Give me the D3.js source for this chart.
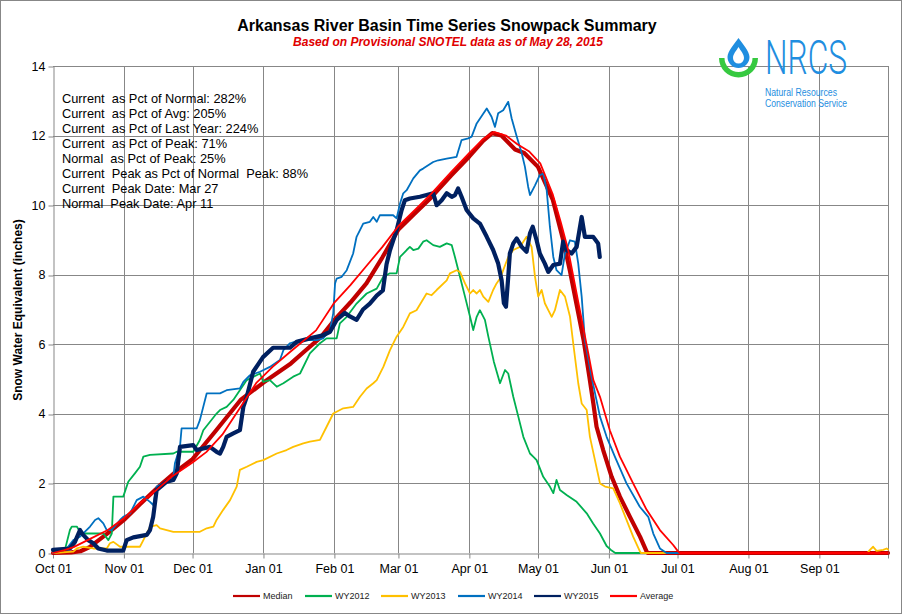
<!DOCTYPE html>
<html><head><meta charset="utf-8">
<script src="https://cdn.jsdelivr.net/npm/d3@7"></script>
<style>
body{margin:0;background:#fff}
svg{display:block}
text{font-family:Arial,"Liberation Sans",sans-serif}
</style>
</head><body>
<svg id="c" width="902" height="614"></svg>
<script>
// ---- DATA (day offset from Oct 01, SWE inches) ----
const yTickValues = [0,2,4,6,8,10,12,14];
const seriesNames = ["Median","WY2012","WY2013","WY2014","WY2015","Average"];
const statLines = [
  "Current  as Pct of Normal: 282%",
  "Current  as Pct of Avg: 205%",
  "Current  as Pct of Last Year: 224%",
  "Current  as Pct of Peak: 71%",
  "Normal  as Pct of Peak: 25%",
  "Current  Peak as Pct of Normal  Peak: 88%",
  "Current  Peak Date: Mar 27",
  "Normal  Peak Date: Apr 11"
];
const median = [[0,0],[8,0.02],[12,0.05],[16,0.17],[24,0.57],[31,0.95],[38,1.4],[46,1.9],[53,2.3],[61,2.7],[71,3.5],[82,4.4],[92,4.9],[104,5.45],[110,5.8],[117,6.2],[123,6.7],[130,7.2],[137,7.75],[144,8.5],[151,9.3],[158,9.75],[165,10.2],[174,10.85],[182,11.4],[188,11.85],[192,12.07],[196,12.0],[202,11.6],[206,11.5],[212,11.1],[218.5,10.15],[223,9.0],[226,8.1],[229,7.1],[232,6.1],[234.5,5.05],[236.2,4.3],[237.6,3.63],[240.5,2.96],[244.2,2.19],[247.8,1.62],[252.2,1.04],[256.6,0.47],[259.5,0.04],[260,0],[365,0]];
const wy2012 = [[0,0],[5.2,0.09],[7.4,0.66],[8.2,0.76],[10.4,0.76],[11.8,0.61],[14,0.56],[22,0.56],[24.2,0.37],[25.7,0.56],[26.4,1.62],[30.7,1.62],[32.9,2.05],[35.8,2.29],[38,2.48],[39.5,2.77],[42.4,2.82],[52.6,2.86],[54.1,2.91],[61.3,2.91],[64.2,3.25],[65.7,3.53],[71.5,4.01],[73,4.11],[75.9,4.2],[78.8,4.4],[84.7,4.97],[90.5,5.16],[91.9,4.92],[94.8,4.97],[97.8,4.78],[100.7,4.88],[105,5.07],[108,5.16],[112.3,5.74],[116.7,6.03],[119.6,6.17],[124,6.17],[125.4,6.6],[128.4,6.79],[132.7,7.17],[137.1,7.46],[141.5,7.6],[144.4,7.94],[147.3,8.04],[150.2,8.04],[151.7,8.51],[154.6,8.71],[156,8.8],[157.5,8.71],[159.7,8.75],[161.8,8.95],[163.3,8.99],[166.2,8.85],[169.1,8.8],[172.1,8.9],[174.3,8.85],[175.7,8.51],[177.9,7.94],[180.1,7.37],[182.3,6.79],[183.7,6.41],[185.2,6.79],[186.6,6.98],[188.8,6.7],[190.3,6.22],[192.7,5.5],[195.4,4.88],[197.6,5.26],[199,5.16],[201.2,4.49],[203.4,3.92],[205.6,3.34],[208.5,2.86],[209.9,2.77],[211.4,2.67],[214.3,2.19],[217.2,1.91],[218.7,1.72],[220.1,2.1],[221.6,1.81],[224.5,1.67],[228.9,1.47],[233.3,1.14],[236.1,0.85],[239.1,0.56],[242,0.2],[244.2,0.07],[245.8,0],[365,0]];
const wy2013 = [[0,0],[8.9,0.04],[10.4,0.13],[13.2,0.18],[17.6,0.13],[23.5,0.13],[24.9,0.28],[26.4,0.32],[29.3,0.18],[38,0.18],[39.5,0.37],[42.4,0.75],[45.3,0.8],[46.8,0.71],[52.6,0.61],[64.2,0.61],[67.2,0.71],[70.1,0.76],[71.5,0.95],[74.4,1.24],[77.4,1.52],[80.3,1.91],[81.7,2.39],[84.7,2.48],[89,2.62],[91.9,2.67],[97.8,2.86],[102.1,2.96],[105,3.05],[109.4,3.15],[112.3,3.2],[116.7,3.25],[119.6,3.63],[122.5,4.01],[126.9,4.16],[131.2,4.2],[134.2,4.49],[137.1,4.73],[140,4.88],[141.5,4.97],[144.4,5.35],[147.3,5.83],[150.2,6.22],[153.1,6.5],[156,6.89],[158.9,6.98],[163.3,7.46],[165.5,7.41],[167.7,7.56],[172.1,7.84],[173.5,8.04],[176.4,8.13],[177.9,8.08],[180.1,7.75],[182.3,7.46],[183.7,7.56],[185.2,7.46],[186.6,7.56],[188.1,7.37],[190.3,7.22],[192.4,7.56],[193.9,7.75],[195.4,7.89],[196.8,8.13],[199,8.51],[201.2,8.71],[204.1,8.8],[207,9.09],[209.2,8.8],[210.7,7.94],[212.1,7.37],[213.6,7.56],[215,7.18],[216.5,6.98],[218,6.79],[219.4,6.98],[221.6,7.56],[223.8,7.37],[226,6.79],[227.4,6.03],[229.6,4.88],[231.1,4.3],[233.3,4.11],[234.7,3.34],[236.9,2.67],[239.1,2.0],[241.3,1.91],[244.9,1.86],[247.8,1.43],[250.7,0.95],[253.6,0.47],[256.6,0.04],[257,0],[356,0],[357.1,0.09],[358.5,0.18],[360,0.06],[362.9,0.09],[364.4,0.13],[365,0.1]];
const wy2014 = [[0,0],[6,0.13],[8.9,0.37],[11.8,0.47],[16.2,0.76],[18.4,0.95],[19.8,1.0],[22,0.85],[23.5,0.66],[25.7,0.66],[29.3,0.95],[30.7,1.04],[33.7,1.14],[36.6,1.52],[39.5,1.62],[42.4,1.47],[43.8,1.38],[45.3,1.91],[49.7,2.05],[52.6,2.19],[53.3,2.58],[55.5,3.05],[56.2,3.58],[62.8,3.58],[64.2,3.82],[67.2,4.59],[73,4.59],[75.9,4.68],[81.7,4.73],[83.2,4.92],[86.1,5.11],[90.5,5.21],[94.8,5.35],[99.2,5.55],[100.7,5.83],[103.6,6.03],[108,6.12],[115.3,6.12],[118.1,6.17],[121.1,6.41],[122.5,6.89],[123.3,7.75],[124,7.89],[126.2,7.94],[128.4,8.13],[131.2,8.61],[132.7,9.09],[135.6,9.47],[138.5,9.52],[140,9.66],[141.5,9.52],[142.9,9.71],[148.7,9.71],[150.2,9.62],[151.7,10.05],[153.1,10.34],[154.6,10.43],[157.5,10.77],[160.4,11.0],[161.8,11.05],[166.2,11.24],[168.4,11.29],[172.1,11.34],[176.4,11.39],[178.6,11.87],[181.5,11.92],[183,11.97],[185.2,12.35],[189.6,12.78],[191.7,12.54],[193.2,12.25],[194.6,12.64],[196.8,12.73],[199,12.97],[200.5,12.49],[202.7,11.97],[204.9,11.49],[206.3,11.1],[207.7,10.53],[208.5,10.29],[210.7,10.57],[212.8,10.86],[214.3,10.91],[215.8,10.43],[217.2,9.38],[218.7,8.51],[220.1,8.13],[222.3,7.99],[223.8,8.61],[226,8.99],[228.1,8.95],[229.6,8.32],[231.1,7.37],[232.5,6.12],[235.4,5.07],[239.1,3.92],[242,3.34],[245.6,2.77],[250.7,2.0],[256.5,1.33],[260.2,1.04],[262.4,0.56],[265.3,0.13],[268.2,0],[365,0]];
const wy2015 = [[0,0.09],[7.4,0.13],[9.6,0.32],[11.8,0.66],[13.2,0.52],[15.4,0.37],[17.6,0.28],[19.8,0.13],[23.5,0.07],[30.7,0.07],[32.2,0.37],[35.1,0.45],[41,0.52],[42.4,0.66],[43.8,1.04],[45.3,1.81],[49.7,2.05],[52.6,2.1],[54.1,2.29],[55.5,3.05],[61.3,3.1],[62.8,2.96],[68.6,3.05],[71.5,2.91],[73,2.86],[74.4,3.05],[75.9,3.34],[78.8,3.44],[81.7,3.53],[83.2,4.2],[84.7,4.49],[87.5,5.21],[91.8,5.63],[96.2,5.9],[103.6,5.9],[106.5,6.07],[112.3,6.17],[118,6.26],[121.1,6.36],[124,6.7],[127.6,6.9],[129.8,6.8],[132.7,6.7],[135.5,7.0],[138.5,7.17],[141.5,7.4],[144.2,7.55],[145.8,8.3],[147.3,8.7],[150.2,9.28],[152.4,9.86],[153.8,10.14],[156,10.19],[160.4,10.24],[163.3,10.29],[166.2,10.34],[167.7,10.0],[169.9,10.14],[172.1,10.34],[174.3,10.24],[175.7,10.29],[177.1,10.48],[178.6,10.24],[180.8,9.86],[183.7,9.62],[186.6,9.47],[189.6,9.09],[192.4,8.71],[194.6,8.32],[196.1,7.84],[197.1,7.18],[198,7.08],[199,7.94],[199.7,8.61],[201.2,8.9],[202.7,9.04],[204.9,8.8],[207,8.66],[208.5,9.19],[209.7,9.38],[211.4,8.99],[212.8,8.61],[215,8.32],[216.5,8.08],[218.7,8.28],[221.6,8.32],[223,8.95],[224.5,8.71],[226.7,8.61],[228.9,8.8],[231.1,9.66],[232.5,9.09],[236.1,9.09],[238.3,8.9],[239,8.51]];
const average = [[0,0],[5,0.08],[9,0.17],[16,0.4],[24,0.66],[31,1.0],[38,1.43],[45,1.8],[52,2.2],[61,2.6],[67,2.9],[74,3.4],[82,4.2],[89,4.9],[96,5.35],[104,5.8],[115,6.4],[123,7.2],[130,7.7],[137,8.25],[144,8.8],[151,9.4],[158,9.85],[165,10.3],[174,10.95],[182,11.5],[188,11.9],[193,12.1],[198,12.0],[203,11.75],[208,11.55],[213,11.2],[218.5,10.3],[222,9.5],[225.2,8.71],[230.3,6.98],[234,5.74],[236.2,4.97],[239.1,4.49],[243.4,3.53],[247.8,2.77],[253.6,2.0],[259.5,1.24],[265.3,0.66],[271.1,0.23],[273.3,0.04],[274,0],[365,0]];

// ---- CHART ----
const svg = d3.select("#c");
const start = new Date(Date.UTC(2014,9,1)), end = new Date(Date.UTC(2015,9,1));
const x = d3.scaleUtc().domain([start,end]).range([53,888]);
const y = d3.scaleLinear().domain([0,14]).range([553,66]);
const toDate = d => new Date(start.getTime() + d*864e5);
const grid = "#878787";
const crisp = v => Math.round(v)+0.5;

svg.append("rect").attr("x",0.5).attr("y",0.5).attr("width",901).attr("height",613)
  .attr("fill","#fff").attr("stroke","#878787");

const monthTicks = d3.utcMonth.range(start, new Date(Date.UTC(2015,9,2)));

// gridlines
const gg = svg.append("g").attr("stroke",grid).attr("stroke-width",1);
yTickValues.filter(v=>v>0).forEach(v=>{
  gg.append("line").attr("x1",x(start)).attr("x2",x(end)).attr("y1",crisp(y(v))).attr("y2",crisp(y(v)));
});
monthTicks.slice(1).forEach(d=>{
  gg.append("line").attr("x1",crisp(x(d))).attr("x2",crisp(x(d))).attr("y1",y(14)).attr("y2",y(0));
});

// axes
const fmt = d3.utcFormat("%b %d");
const xa = svg.append("g").attr("transform",`translate(0,${crisp(y(0))})`)
  .call(d3.axisBottom(x).tickValues(monthTicks).tickSize(5).tickSizeOuter(0).tickPadding(6)
    .tickFormat((d,i)=> i<12 ? fmt(d) : ""));
const ya = svg.append("g").attr("transform",`translate(${crisp(x(start))},0)`)
  .call(d3.axisLeft(y).tickValues(yTickValues).tickSize(5).tickSizeOuter(0).tickPadding(3).tickFormat(d3.format("d")));
[xa,ya].forEach(a=>{
  a.selectAll("path,line").attr("stroke",grid);
  a.selectAll("text").attr("fill","#000").style("font-size","12.5px").style("font-family","Arial, 'Liberation Sans', sans-serif");
});
ya.selectAll(".tick line").attr("transform",d=>`translate(0,${crisp(y(d))-y(d)})`);

// series
const line = d3.line().x(d=>x(toDate(d[0]))).y(d=>y(d[1]));
const series = [
  {name:"Median", data:median, color:"#C00000", w:4.2},
  {name:"WY2012", data:wy2012, color:"#00B050", w:1.8},
  {name:"WY2013", data:wy2013, color:"#FFC000", w:1.8},
  {name:"WY2014", data:wy2014, color:"#0070C0", w:1.8},
  {name:"WY2015", data:wy2015, color:"#002060", w:4.2},
  {name:"Average", data:average, color:"#FF0000", w:1.8}
];
const sg = svg.append("g");
series.forEach(s=>{
  sg.append("path").datum(s.data).attr("d",line).attr("fill","none")
    .attr("stroke",s.color).attr("stroke-width",s.w)
    .attr("stroke-linejoin","round").attr("stroke-linecap","round");
});

// titles
svg.append("text").attr("x",447).attr("y",31).attr("text-anchor","middle")
  .style("font-size","16px").style("font-weight","bold").attr("fill","#000")
  .text("Arkansas River Basin Time Series Snowpack Summary");
svg.append("text").attr("x",448).attr("y",46).attr("text-anchor","middle")
  .style("font-size","12px").style("font-weight","bold").style("font-style","italic").attr("fill","#E00000")
  .text("Based on Provisional SNOTEL data as of May 28, 2015");
svg.append("text").attr("transform","translate(22,310) rotate(-90)").attr("text-anchor","middle")
  .style("font-size","12px").style("font-weight","bold").attr("fill","#000")
  .text("Snow Water Equivalent (inches)");

// stats
statLines.forEach((t,i)=>{
  svg.append("text").attr("x",62).attr("y",103+i*15).style("font-size","12.8px")
    .style("white-space","pre").attr("fill","#000").text(t);
});

// legend
const legX = [233,305,381,458,534,610];
series.forEach((s,i)=>{
  svg.append("line").attr("x1",legX[i]).attr("x2",legX[i]+27).attr("y1",596).attr("y2",596)
    .attr("stroke",s.color).attr("stroke-width",2.2);
  svg.append("text").attr("x",legX[i]+30).attr("y",599).style("font-size","9px").attr("fill","#222").text(seriesNames[i]);
});

// NRCS logo
const blue = "#1f8ee0", green = "#36c940";
const logo = svg.append("g");
logo.append("path").attr("d", d3.arc()({innerRadius:14, outerRadius:19.5, startAngle:Math.PI/2, endAngle:Math.PI*1.5}))
  .attr("transform","translate(738.5,58)").attr("fill",green);
logo.append("path").attr("d","M738.5,38 C735,43 727.5,51 727.5,57 A11,11 0 0 0 749.5,57 C749.5,51 742,43 738.5,38 Z").attr("fill",blue);
logo.append("path").attr("d","M738.5,47 C736.5,50.5 733,54 733,58 A5.5,5.5 0 0 0 744,58 C744,54 740.5,50.5 738.5,47 Z").attr("fill","#fff");
logo.append("text").attr("x",765).attr("y",73.5).attr("textLength",82).attr("lengthAdjust","spacingAndGlyphs")
  .style("font-family","Roboto, 'Open Sans', sans-serif").style("font-weight","300").style("font-size","48px").attr("fill",blue).text("NRCS");
logo.append("text").attr("x",765).attr("y",96).attr("textLength",72).attr("lengthAdjust","spacingAndGlyphs")
  .style("font-size","10px").attr("fill",blue).text("Natural Resources");
logo.append("text").attr("x",765).attr("y",106.5).attr("textLength",82).attr("lengthAdjust","spacingAndGlyphs")
  .style("font-size","10px").attr("fill",blue).text("Conservation Service");
</script>
</body></html>
